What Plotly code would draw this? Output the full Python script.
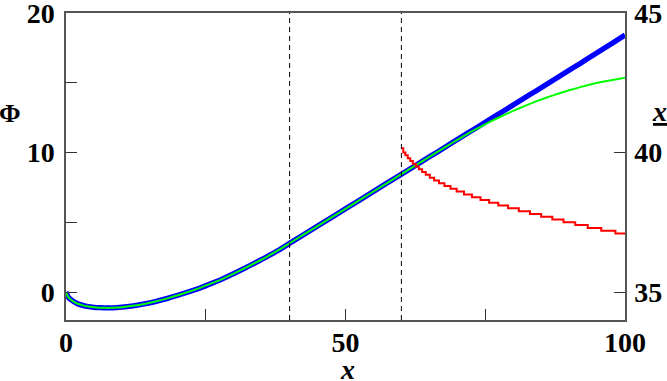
import plotly.graph_objects as go

# ---- data ----
phi_x = [0, 0.4, 1, 2, 3, 4, 5, 6, 7, 8, 9, 10, 12, 14, 16, 18, 20, 22, 24, 26, 28,
         30, 32, 34, 36, 38, 40, 45, 50, 55, 60, 65, 68, 70, 72, 74, 76, 78, 80,
         82, 84, 86, 88, 90, 92, 94, 96, 98, 100]
phi_blue = [0, -0.36, -0.58, -0.82, -0.95, -1.04, -1.09, -1.12, -1.13, -1.13, -1.11,
            -1.08, -0.98, -0.85, -0.68, -0.47, -0.23, 0.03, 0.30, 0.62, 0.95,
            1.32, 1.72, 2.13, 2.55, 3.00, 3.50, 4.73, 5.97, 7.21, 8.45, 9.69, 10.43,
            10.93, 11.43, 11.92, 12.42, 12.91, 13.41, 13.91, 14.40, 14.90, 15.39,
            15.89, 16.39, 16.90, 17.40, 17.91, 18.42]
phi_green = [0, -0.36, -0.58, -0.82, -0.95, -1.04, -1.09, -1.12, -1.13, -1.13, -1.11,
             -1.08, -0.98, -0.85, -0.68, -0.47, -0.23, 0.03, 0.30, 0.62, 0.95,
             1.32, 1.72, 2.13, 2.55, 3.00, 3.50, 4.73, 5.97, 7.21, 8.45, 9.69, 10.43,
             10.91, 11.38, 11.81, 12.23, 12.62, 12.98, 13.33, 13.65, 13.94, 14.21,
             14.46, 14.69, 14.89, 15.07, 15.22, 15.36]

red_x = [60, 60.34, 60.71, 61.14, 61.59, 62.05, 62.58, 63.12, 63.71, 64.36, 65.08,
         65.85, 66.73, 67.7, 68.78, 69.89, 71.2, 72.62, 74.15, 75.69, 77.33, 79.09,
         81.0, 83.0, 85.0, 87.0, 89.0, 91.1, 93.33, 95.75, 98.29, 100]
red_y = [40.15, 40.0, 39.9, 39.8, 39.7, 39.6, 39.5, 39.4, 39.3, 39.2, 39.1,
         39.0, 38.9, 38.8, 38.7, 38.6, 38.5, 38.4, 38.3, 38.2, 38.1, 38.0,
         37.9, 37.8, 37.7, 37.6, 37.5, 37.4, 37.3, 37.2, 37.1, 37.1]

vline_x = [40, 60]

x_ticks = [0, 25, 50, 75, 100]
x_ticktext = ["0", "", "50", "", "100"]
y_ticks = [0, 5, 10, 15, 20]
y_ticktext = ["0", "", "10", "", "20"]
y2_ticks = [35, 40, 45]
y2_ticktext = ["35", "40", "45"]

FONT = "Liberation Serif"
tickfont = dict(family=FONT, size=28, color="black", weight="bold")

fig = go.Figure()
fig.add_trace(go.Scatter(x=phi_x, y=phi_blue, mode="lines",
                         line=dict(color="#0000ff", width=5.3, shape="spline", smoothing=0.6),
                         showlegend=False))
fig.add_trace(go.Scatter(x=phi_x, y=phi_green, mode="lines",
                         line=dict(color="#00ff00", width=2, shape="spline", smoothing=0.6),
                         showlegend=False))
fig.add_trace(go.Scatter(x=red_x, y=red_y, mode="lines", yaxis="y2",
                         line=dict(color="#ff0000", width=2, shape="hv"),
                         showlegend=False))

for vx in vline_x:
    fig.add_shape(type="line", xref="x", yref="paper", x0=vx, x1=vx, y0=0, y1=1,
                  line=dict(color="black", width=1, dash="5px,4px"), layer="above")

axis_common = dict(showgrid=False, zeroline=False, ticks="inside", ticklen=11,
                   tickwidth=1, tickcolor="#333333", linecolor="#555555", linewidth=1.5,
                   showline=True, tickfont=tickfont, automargin=False,
                   ticklabeloverflow="allow")

fig.update_layout(
    width=667, height=381,
    margin=dict(l=66, r=42, t=13, b=61, autoexpand=False),
    plot_bgcolor="white", paper_bgcolor="white",
    xaxis=dict(range=[0, 100], tickvals=x_ticks, ticktext=x_ticktext, mirror=True,
               ticklabelstandoff=-3, **axis_common),
    yaxis=dict(range=[-2, 20], tickvals=y_ticks, ticktext=y_ticktext,
               ticklabelstandoff=4, **axis_common),
    yaxis2=dict(range=[34, 45], tickvals=y2_ticks, ticktext=y2_ticktext,
                overlaying="y", side="right", ticklabelstandoff=2, **axis_common),
    annotations=[
        dict(text="<b>Φ</b>", xref="paper", yref="paper", x=-0.100, y=0.674,
             xanchor="center", yanchor="middle",
             showarrow=False, font=dict(family=FONT, size=26, color="black")),
        dict(text="<b><i>x</i></b>", xref="paper", yref="paper", x=0.503, y=-0.16,
             xanchor="center", yanchor="middle",
             showarrow=False, font=dict(family=FONT, size=28, color="black")),
        dict(text="<b><i><u>x</u></i></b>", xref="paper", yref="paper", x=1.061, y=0.68,
             xanchor="center", yanchor="middle",
             showarrow=False, font=dict(family=FONT, size=28, color="black")),
    ],
)

fig.write_html("out.html", config={"displayModeBar": False},
               post_script="document.body.style.margin='0';document.body.style.overflow='hidden';")
